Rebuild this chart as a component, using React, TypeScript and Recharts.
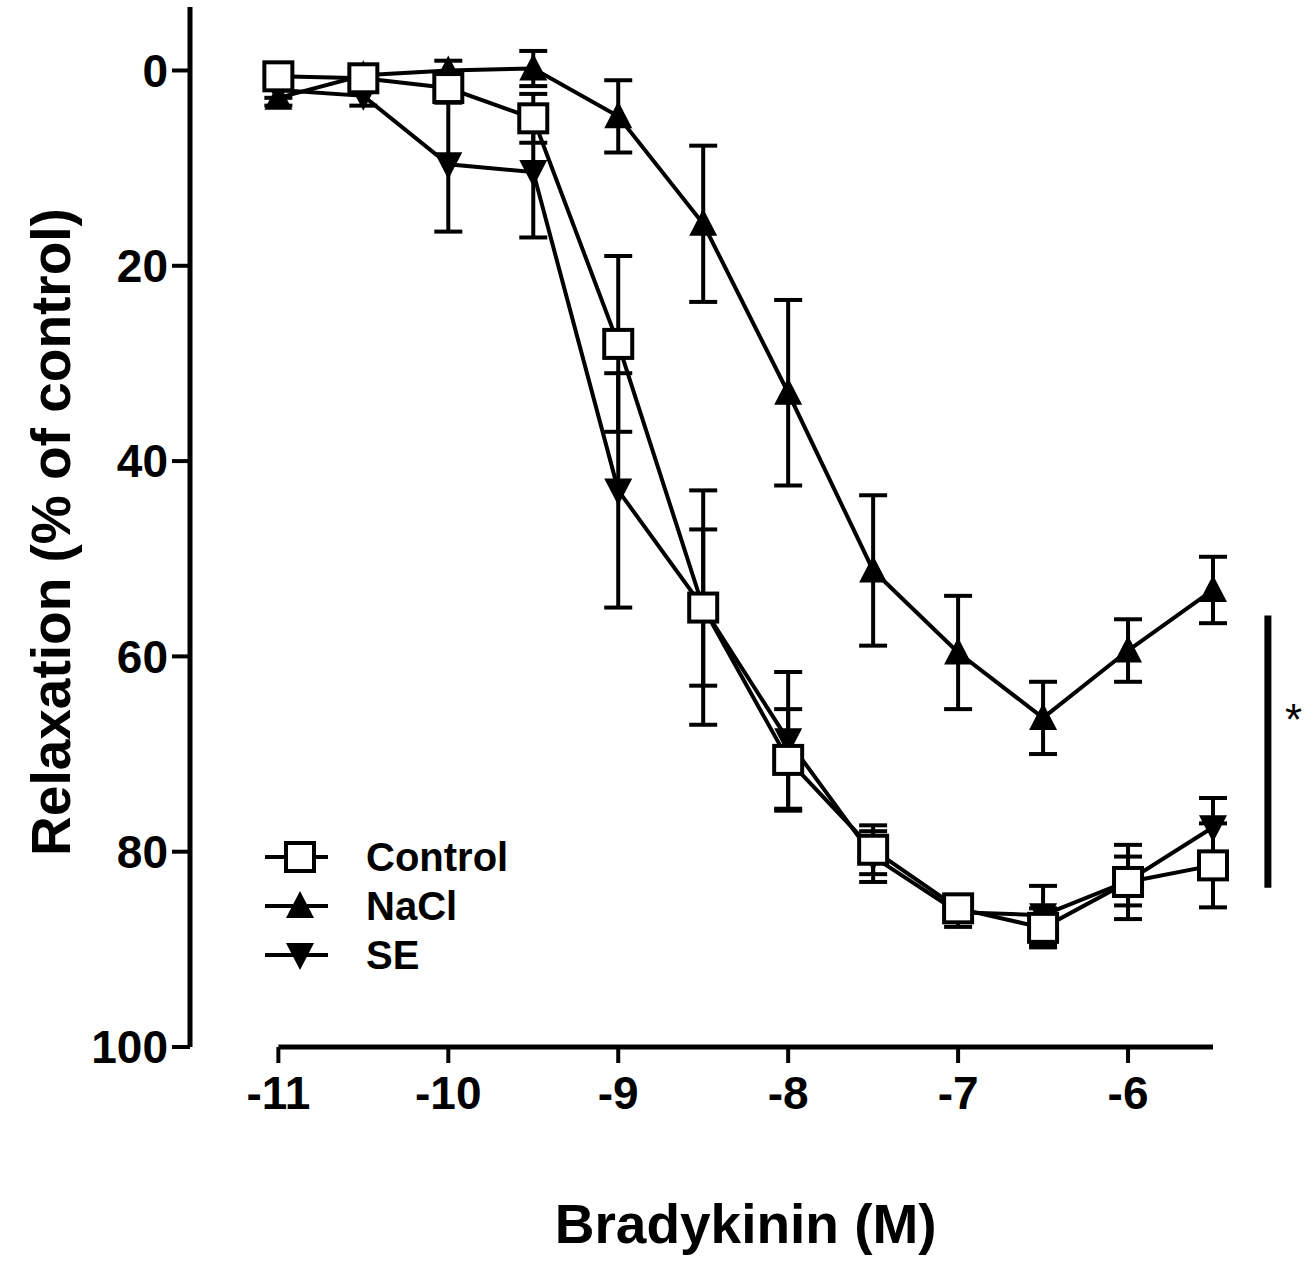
import React from 'react'
import {
  LineChart,
  Line,
  XAxis,
  YAxis,
  ErrorBar,
  Legend,
  Label,
  ReferenceLine,
  ReferenceDot,
} from 'recharts'

// log [bradykinin] (M)
const logConc = [-11, -10.5, -10, -9.5, -9, -8.5, -8, -7.5, -7, -6.5, -6, -5.5]

// relaxation (% of control), mean and SEM
const control = [0.6, 0.8, 1.8, 4.9, 28, 55, 70.6, 79.8, 85.8, 87.8, 83.1, 81.4]
const controlSem = [0.8, 0.8, 1.5, 2.5, 9, 12, 5.2, 2.5, 1, 2, 3.8, 4.3]
const nacl = [2.8, 0.5, 0, -0.2, 4.7, 15.7, 33, 51.2, 59.6, 66.3, 59.4, 53.2]
const naclSem = [0.8, 0.8, 1, 1.8, 3.7, 8, 9.5, 7.7, 5.8, 3.7, 3.2, 3.4]
const se = [2, 2.6, 9.6, 10.4, 43, 55, 68.6, 80.5, 86.2, 86.5, 83, 77.5]
const seSem = [0.8, 1, 6.9, 6.7, 12, 8, 7, 2.6, 1.5, 3, 2.5, 3]

const xTicks = [-11, -10, -9, -8, -7, -6]
const yTicks = [0, 20, 40, 60, 80, 100]
const seriesNames = ['Control', 'NaCl', 'SE']

// significance bracket between NaCl and the other two groups at the top doses
const sigBar = { x: -5.177, from: 55.8, to: 83.7 }
const sigStar = { x: -5.026, y: 65.5, text: '*' }

const data = logConc.map((x, i) => ({
  x,
  control: control[i],
  controlSem: controlSem[i],
  nacl: nacl[i],
  naclSem: naclSem[i],
  se: se[i],
  seSem: seSem[i],
}))

const FONT = '"Liberation Sans", Arial, Helvetica, sans-serif'
const X_MIN = -11.52
const X_MAX = -5.5

const Square = ({ cx, cy }: { cx: number; cy: number }) => (
  <rect x={cx - 14} y={cy - 14} width={28} height={28} fill="#fff" stroke="#000" strokeWidth={4} />
)
const TriUp = ({ cx, cy }: { cx: number; cy: number }) => (
  <polygon points={`${cx},${cy - 15} ${cx + 14},${cy + 12} ${cx - 14},${cy + 12}`} fill="#000" />
)
const TriDown = ({ cx, cy }: { cx: number; cy: number }) => (
  <polygon points={`${cx},${cy + 15} ${cx + 14},${cy - 12} ${cx - 14},${cy - 12}`} fill="#000" />
)

const markers: Record<string, (p: { cx: number; cy: number }) => React.ReactElement> = {
  Control: Square,
  NaCl: TriUp,
  SE: TriDown,
}

function renderLegend() {
  return (
    <svg width={300} height={160} style={{ display: 'block' }}>
      {seriesNames.map((name, i) => {
        const y = 32 + i * 49
        const Marker = markers[name]
        return (
          <g key={name}>
            <line x1={5} x2={68} y1={y} y2={y} stroke="#000" strokeWidth={4} />
            <Marker cx={40} cy={y} />
            <text
              x={106}
              y={y + 14}
              fontSize={40}
              fontWeight={700}
              fontFamily={FONT}
              fill="#000"
            >
              {name}
            </text>
          </g>
        )
      })}
    </svg>
  )
}

const dotFor = (name: string) => (props: any) => {
  const Marker = markers[name]
  if (props.cx == null || props.cy == null) return <g key={`${name}-${props.index}`} />
  return (
    <g key={`${name}-${props.index}`}>
      <Marker cx={props.cx} cy={props.cy} />
    </g>
  )
}

const tickStyle = { fontSize: 46, fontWeight: 700, fill: '#000', fontFamily: FONT }

export default function App() {
  return (
    <div style={{ position: 'absolute', left: 0, top: 0, background: '#fff' }}>
      <LineChart
        width={1315}
        height={1275}
        data={data}
        margin={{ top: 7, right: 102, bottom: 0, left: 0 }}
      >
        <XAxis
          dataKey="x"
          type="number"
          domain={[X_MIN, X_MAX]}
          ticks={xTicks}
          axisLine={false}
          tickLine={{ stroke: '#000', strokeWidth: 4 }}
          tickSize={16}
          tickMargin={13}
          tick={tickStyle}
          height={228}
          label={
            <Label
              content={(p: any) => {
                const vb = p.viewBox
                // centred under the drawn axis line (-11 .. -5.5)
                const cx = vb.x + (vb.width * (-8.25 - X_MIN)) / (X_MAX - X_MIN)
                return (
                  <text
                    x={cx}
                    y={vb.y + 196}
                    textAnchor="middle"
                    fontSize={55}
                    fontWeight={700}
                    fontFamily={FONT}
                    fill="#000"
                  >
                    Bradykinin (M)
                  </text>
                )
              }}
            />
          }
        />
        <YAxis
          type="number"
          domain={[-6.5, 100]}
          reversed
          ticks={yTicks}
          width={190}
          axisLine={{ stroke: '#000', strokeWidth: 5 }}
          tickLine={{ stroke: '#000', strokeWidth: 4 }}
          tickSize={18}
          tickMargin={4}
          tick={tickStyle}
          label={
            <Label
              content={(p: any) => {
                const vb = p.viewBox
                const x = vb.x + 70
                const y = vb.y + vb.height / 2 + 5
                return (
                  <text
                    x={x}
                    y={y}
                    transform={`rotate(-90, ${x}, ${y})`}
                    textAnchor="middle"
                    fontSize={55}
                    fontWeight={700}
                    fontFamily={FONT}
                    fill="#000"
                  >
                    Relaxation (% of control)
                  </text>
                )
              }}
            />
          }
        />
        {/* x axis line only spans the dose range */}
        <ReferenceLine
          segment={[
            { x: -11, y: 100 },
            { x: -5.5, y: 100 },
          ]}
          stroke="#000"
          strokeWidth={5}
          ifOverflow="visible"
        />
        <Line
          dataKey="nacl"
          name="NaCl"
          stroke="#000"
          strokeWidth={4}
          dot={dotFor('NaCl')}
          activeDot={false}
          isAnimationActive={false}
        >
          <ErrorBar dataKey="naclSem" direction="y" width={14} stroke="#000" strokeWidth={4} />
        </Line>
        <Line
          dataKey="se"
          name="SE"
          stroke="#000"
          strokeWidth={4}
          dot={dotFor('SE')}
          activeDot={false}
          isAnimationActive={false}
        >
          <ErrorBar dataKey="seSem" direction="y" width={14} stroke="#000" strokeWidth={4} />
        </Line>
        <Line
          dataKey="control"
          name="Control"
          stroke="#000"
          strokeWidth={4}
          dot={dotFor('Control')}
          activeDot={false}
          isAnimationActive={false}
        >
          <ErrorBar dataKey="controlSem" direction="y" width={14} stroke="#000" strokeWidth={4} />
        </Line>
        <ReferenceLine
          segment={[
            { x: sigBar.x, y: sigBar.from },
            { x: sigBar.x, y: sigBar.to },
          ]}
          stroke="#000"
          strokeWidth={7}
          ifOverflow="visible"
        />
        <ReferenceDot
          x={sigStar.x}
          y={sigStar.y}
          r={1}
          ifOverflow="visible"
          shape={(p: any) => (
            <text
              x={p.cx}
              y={p.cy + 25}
              textAnchor="middle"
              fontSize={44}
              fontFamily={FONT}
              fill="#000"
            >
              {sigStar.text}
            </text>
          )}
        />
        <Legend
          layout="vertical"
          align="center"
          verticalAlign="middle"
          content={renderLegend}
          wrapperStyle={{ left: 260, top: 825, width: 300, height: 160 }}
        />
      </LineChart>
    </div>
  )
}
